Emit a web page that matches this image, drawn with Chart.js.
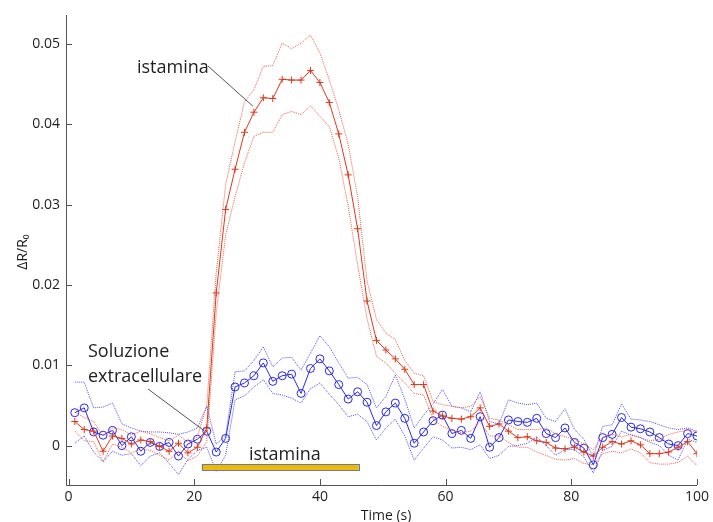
<!DOCTYPE html>
<html>
<head>
<meta charset="utf-8">
<script src="https://cdn.jsdelivr.net/npm/chart.js@4/dist/chart.umd.min.js"></script>
<style>
  html, body { margin: 0; padding: 0; background: #fff; }
</style>
</head>
<body>
<canvas id="chart" width="713" height="522"></canvas>
<script>
// sampling times (s)
const times = [
  1, 2.5, 4, 5.5, 7, 8.5, 10, 11.5, 13, 14.5, 16, 17.5, 19, 20.5, 22,
  23.5, 25, 26.5, 28, 29.5, 31, 32.5, 34, 35.5, 37, 38.5, 40, 41.5, 43, 44.5,
  46, 47.5, 49, 50.5, 52, 53.5, 55, 56.5, 58, 59.5, 61, 62.5, 64, 65.5, 67,
  68.5, 70, 71.5, 73, 74.5, 76, 77.5, 79, 80.5, 82, 83.5, 85, 86.5, 88, 89.5,
  91, 92.5, 94, 95.5, 97, 98.5, 100
];

// histamine response: mean and mean +/- error
const histMean = [
  0.003, 0.002, 0.0018, -0.0007, 0.0012, 0.0009, 0.0002, 0.0007, 0.0005, -0.0001, -0.0007, 0.0003, -0.0009, -0.0002, 0.0022,
  0.019, 0.0294, 0.0344, 0.039, 0.0415, 0.0433, 0.0432, 0.0456, 0.0455, 0.0455, 0.0467, 0.0452, 0.0427, 0.0388, 0.0337,
  0.027, 0.018, 0.0131, 0.0119, 0.0108, 0.0095, 0.0076, 0.0076, 0.0043, 0.0037, 0.0034, 0.0033, 0.0036, 0.0047, 0.0024,
  0.0027, 0.0018, 0.001, 0.0011, 0.0006, 0.0004, -0.0003, -0.0004, -0.0002, -0.0008, -0.0013, -0.0002, 0.0005, 0.0002, 0.0006,
  0.0001, -0.001, -0.001, -0.0008, -0.0002, 0.0005, -0.001
];
const histUpper = [
  0.0042, 0.0035, 0.003, 0.0012, 0.0022, 0.002, 0.0013, 0.0018, 0.0015, 0.001, 0.0006, 0.0013, 0.0004, 0.0011, 0.005,
  0.0215, 0.0325, 0.0378, 0.0428, 0.0443, 0.0472, 0.0473, 0.0501, 0.0494, 0.0501, 0.0511, 0.0489, 0.0455, 0.0418, 0.0375,
  0.031, 0.0205, 0.0157, 0.014, 0.0132, 0.0106, 0.009, 0.0087, 0.0055, 0.0051, 0.0049, 0.0047, 0.0049, 0.0061, 0.0034,
  0.0032, 0.0026, 0.002, 0.002, 0.002, 0.0022, 0.0015, 0.0011, 0.0008, 0.0002, -0.0005, 0.001, 0.0014, 0.0011, 0.0014,
  0.001, 0.0006, 0.0008, 0.0014, 0.0017, 0.0019, 0.0017
];
const histLower = [
  0.0018, 0.0006, 0.0005, -0.002, 0.0002, -0.0002, -0.0009, -0.0004, -0.0006, -0.0012, -0.0018, -0.0007, -0.0019, -0.0013, 0.0005,
  0.0165, 0.0262, 0.031, 0.0352, 0.0385, 0.039, 0.039, 0.0412, 0.0416, 0.0412, 0.0423, 0.041, 0.0397, 0.0358, 0.0298,
  0.0225, 0.0158, 0.0111, 0.0103, 0.009, 0.0078, 0.0065, 0.0063, 0.0033, 0.0024, 0.0019, 0.0016, 0.0018, 0.003, 0.0012,
  0.0012, 0.0004, -0.0002, -0.0002, -0.0008, -0.0012, -0.0017, -0.0018, -0.0016, -0.0022, -0.0024, -0.001, -0.0007, -0.0009, -0.0004,
  -0.0009, -0.0021, -0.0023, -0.0023, -0.0021, -0.0013, -0.0025
];

// extracellular solution (control): mean and mean +/- error
const ctrlMean = [
  0.0041, 0.0047, 0.0017, 0.0013, 0.0019, 0.0, 0.0011, -0.0007, 0.0004, -0.0001, 0.0004, -0.0013, 0.0002, 0.0008, 0.0018,
  -0.0008, 0.0009, 0.0073, 0.0078, 0.0087, 0.0103, 0.008, 0.0087, 0.0089, 0.0065, 0.0096, 0.0108, 0.0093, 0.0076, 0.0058,
  0.0067, 0.0054, 0.0025, 0.0042, 0.0053, 0.0034, 0.0003, 0.0017, 0.0031, 0.0038, 0.0015, 0.0019, 0.0009, 0.0036, -0.0002,
  0.001, 0.0032, 0.003, 0.0029, 0.0034, 0.0015, 0.001, 0.0022, 0.0004, -0.0003, -0.0024, 0.001, 0.0014, 0.0035, 0.0023,
  0.0021, 0.0017, 0.001, 0.0002, 0.0, 0.0015, 0.0012
];
const ctrlUpper = [
  0.0079, 0.0079, 0.0047, 0.0048, 0.0053, 0.0027, 0.0022, 0.0018, 0.0017, 0.0017, 0.0016, 0.0014, 0.0017, 0.0022, 0.0049,
  0.0002, 0.0012, 0.0092, 0.0093, 0.0106, 0.0123, 0.0098, 0.0109, 0.011, 0.0094, 0.0115, 0.0137, 0.0123, 0.0103, 0.0084,
  0.0085, 0.0076, 0.0047, 0.0061, 0.0088, 0.0058, 0.0022, 0.0038, 0.0052, 0.007, 0.0049, 0.0047, 0.0042, 0.0067, 0.003,
  0.0027, 0.0057, 0.0053, 0.0051, 0.0053, 0.0034, 0.003, 0.0046, 0.002, 0.0008, -0.0014, 0.0024, 0.0026, 0.0052, 0.0033,
  0.0032, 0.003, 0.0026, 0.0022, 0.002, 0.0022, 0.0018
];
const ctrlLower = [
  0.0003, 0.0012, -0.0008, -0.002, -0.0007, -0.0012, -0.001, -0.0025, -0.0013, -0.0009, -0.0022, -0.0036, -0.0017, -0.0006, -0.0002,
  -0.0032, -0.0012, 0.0057, 0.0062, 0.0073, 0.0082, 0.0065, 0.0063, 0.0059, 0.0053, 0.0071, 0.0078, 0.0064, 0.0051, 0.0036,
  0.0039, 0.003, 0.0007, 0.0022, 0.0033, 0.0012, -0.0018, -0.0003, 0.0011, 0.0007, -0.0003, -0.0002, -0.0005, 0.0001, -0.0016,
  -0.0012, -0.0001, 0.0, 0.0003, 0.0011, 0.0, -0.0012, -0.0005, -0.0005, -0.0014, -0.0034, -0.0006, -0.0001, 0.0018, 0.0013,
  0.001, 0.0004, 0.0, -0.0012, -0.0018, 0.0008, 0.0004
];

// axis ticks
const xTicks = [0, 20, 40, 60, 80, 100];
const yTicks = [0, 0.01, 0.02, 0.03, 0.04, 0.05];

// application window of histamine (s) and where its bar sits
const stimStart = 21.2;
const stimEnd = 46.2;
const stimLevel = -0.00265;

const RED = 'rgb(225, 55, 25)';
const RED_BAND = 'rgba(236, 80, 50, 0.9)';
const BLUE = 'rgb(40, 40, 235)';
const BLUE_BAND = 'rgba(60, 60, 245, 0.9)';
const TEXT = '#1e1e1e';
const FONT = '"Open Sans", "Noto Sans", sans-serif';

const pts = arr => arr.map((v, i) => ({ x: times[i], y: v }));

function band(arr, color) {
  return {
    data: pts(arr),
    borderColor: color,
    borderWidth: 1,
    borderDash: [1, 1],
    pointRadius: 0,
    tension: 0,
  };
}

// stimulus bar, in-plot labels, annotation leaders and inward ticks
const overlay = {
  id: 'overlay',
  afterDatasetsDraw(chart) {
    const { ctx, scales: { x, y } } = chart;
    ctx.save();

    // histamine application bar
    const x0 = x.getPixelForValue(stimStart);
    const x1 = x.getPixelForValue(stimEnd);
    const yc = y.getPixelForValue(stimLevel);
    ctx.fillStyle = '#f2b705';
    ctx.fillRect(x0, yc - 3, x1 - x0, 6);
    ctx.strokeStyle = '#5b7fa6';
    ctx.lineWidth = 1;
    ctx.strokeRect(Math.round(x0) + 0.5, Math.round(yc - 3) + 0.5, Math.round(x1 - x0), 6);

    ctx.fillStyle = TEXT;
    ctx.font = '18px ' + FONT;
    ctx.textBaseline = 'middle';
    ctx.textAlign = 'left';
    ctx.fillText('istamina', 249, 455);

    // labels with leader lines to the traces
    ctx.fillText('istamina', 137, 68);
    ctx.fillText('Soluzione', 88, 352);
    ctx.fillText('extracellulare', 88, 377);

    ctx.strokeStyle = '#555';
    ctx.lineWidth = 1;
    const redTip = { x: x.getPixelForValue(times[19]) - 1, y: y.getPixelForValue(histMean[19]) - 6 };
    ctx.beginPath();
    ctx.moveTo(208, 66);
    ctx.lineTo(redTip.x, redTip.y);
    ctx.stroke();

    const blueTip = { x: x.getPixelForValue(times[14]) - 2, y: y.getPixelForValue(ctrlMean[14]) };
    ctx.beginPath();
    ctx.moveTo(148, 389);
    ctx.lineTo(blueTip.x, blueTip.y);
    ctx.stroke();

    // tick marks pointing into the plot
    ctx.strokeStyle = '#555';
    xTicks.forEach(v => {
      const px = Math.round(x.getPixelForValue(v)) + 0.5;
      ctx.beginPath();
      ctx.moveTo(px, y.bottom);
      ctx.lineTo(px, y.bottom - 6);
      ctx.stroke();
    });
    yTicks.forEach(v => {
      const py = Math.round(y.getPixelForValue(v)) + 0.5;
      ctx.beginPath();
      ctx.moveTo(x.left, py);
      ctx.lineTo(x.left + 6, py);
      ctx.stroke();
    });

    // axis titles
    ctx.fillStyle = TEXT;
    ctx.font = '14px ' + FONT;
    ctx.textAlign = 'center';
    ctx.fillText('Time (s)', 386, 516);
    ctx.translate(23, 252);
    ctx.rotate(-Math.PI / 2);
    ctx.fillText('\u0394R/R\u2080', 0, 0);

    ctx.restore();
  }
};

new Chart(document.getElementById('chart'), {
  type: 'line',
  data: {
    datasets: [
      band(histUpper, RED_BAND),
      band(histLower, RED_BAND),
      band(ctrlUpper, BLUE_BAND),
      band(ctrlLower, BLUE_BAND),
      {
        data: pts(histMean),
        borderColor: RED,
        borderWidth: 1,
        pointStyle: 'cross',
        pointRadius: 3.5,
        pointBorderColor: RED,
        pointBorderWidth: 1,
        tension: 0,
      },
      {
        data: pts(ctrlMean),
        borderColor: BLUE,
        borderWidth: 1,
        pointStyle: 'circle',
        pointRadius: 4,
        pointBackgroundColor: 'rgba(0,0,0,0)',
        pointBorderColor: BLUE,
        pointBorderWidth: 1,
        tension: 0,
      },
    ]
  },
  options: {
    responsive: false,
    animation: false,
    layout: { padding: { top: 15, right: 16, left: 0, bottom: 0 } },
    plugins: { legend: { display: false }, tooltip: { enabled: false } },
    scales: {
      x: {
        type: 'linear',
        min: -0.4,
        max: 100,
        afterBuildTicks: s => { s.ticks = xTicks.map(v => ({ value: v })); },
        afterFit: s => { s.height = 37; },
        grid: { display: false, drawTicks: false },
        border: { display: true, color: '#555' },
        ticks: { color: TEXT, font: { family: FONT, size: 14 }, padding: 4, maxRotation: 0 },
      },
      y: {
        min: -0.0049,
        max: 0.0536,
        afterBuildTicks: s => { s.ticks = yTicks.map(v => ({ value: v })); },
        afterFit: s => { s.width = 66; },
        grid: { display: false, drawTicks: false },
        border: { display: true, color: '#555' },
        ticks: {
          color: TEXT,
          font: { family: FONT, size: 14 },
          padding: 6,
          callback: v => v === 0 ? '0' : String(Number(v.toFixed(2))),
        },
      }
    }
  },
  plugins: [overlay]
});
</script>
</body>
</html>
